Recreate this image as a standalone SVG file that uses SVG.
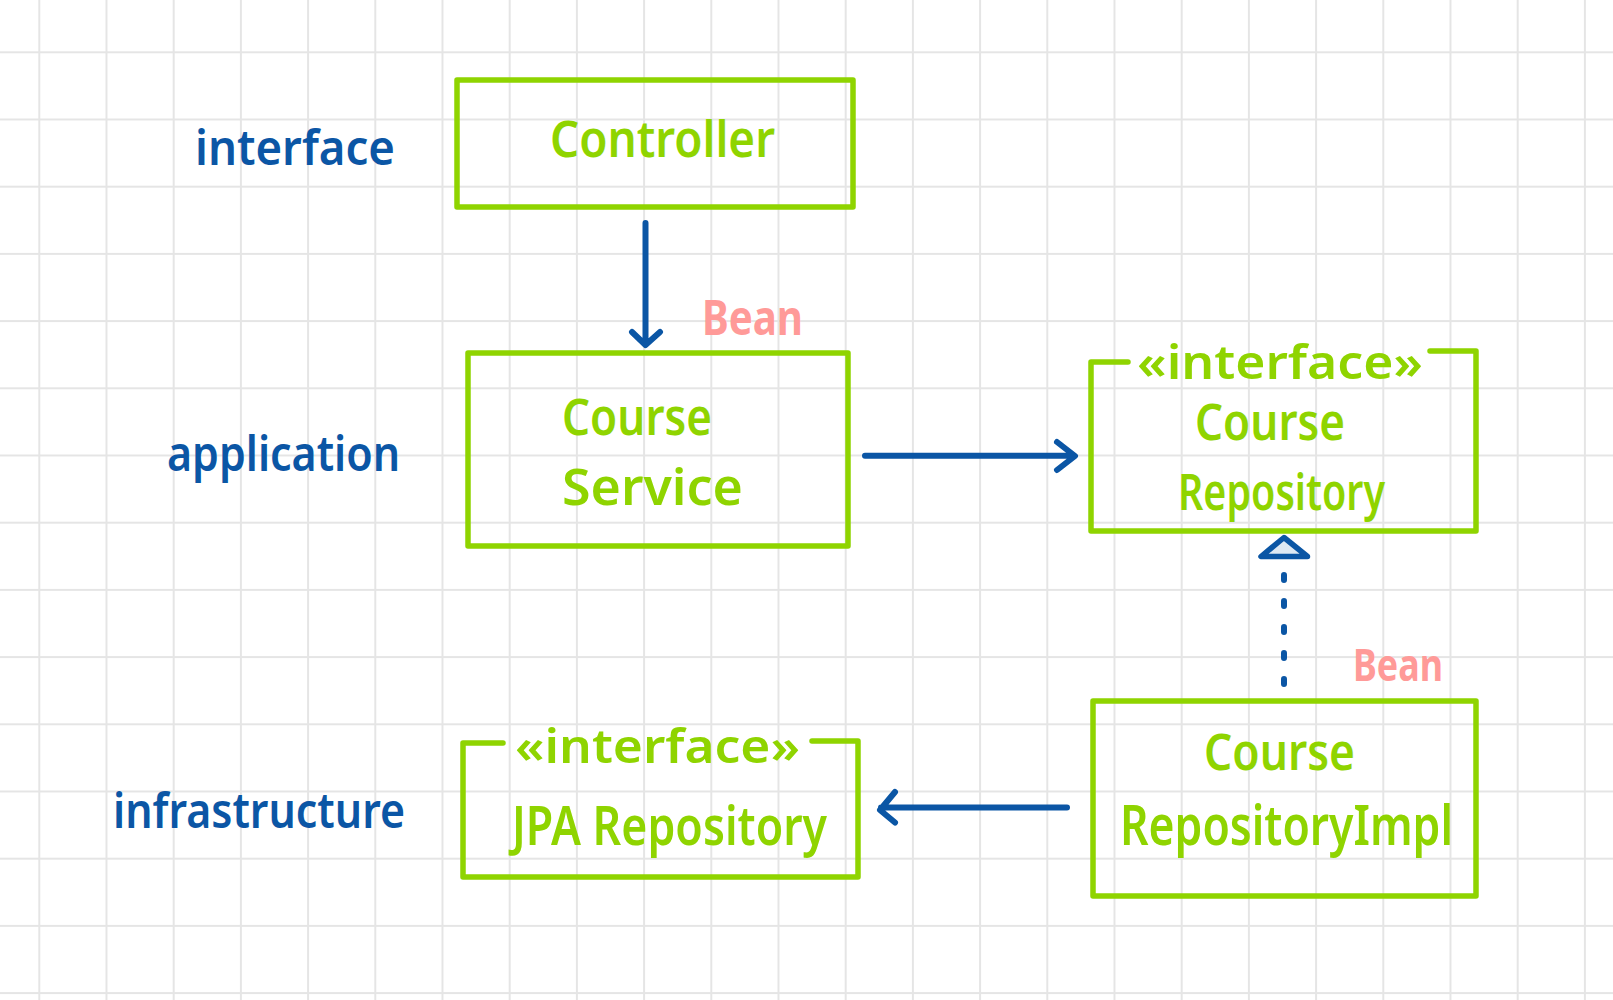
<svg xmlns="http://www.w3.org/2000/svg" width="1613" height="1000" viewBox="0 0 1613 1000">
  <style>
    .box { fill: none; stroke: #8fd400; stroke-width: 5.5; stroke-linejoin: round; stroke-linecap: round; }
    .gt { fill: #8fd400; font-family: "Noto Sans", "DejaVu Sans", sans-serif; font-weight: 600; }
    .bt { fill: #0b56a5; font-family: "Noto Sans", "DejaVu Sans", sans-serif; font-weight: 600; font-size: 48px; }
    .bean { fill: #ff9a98; font-family: "Noto Sans", "DejaVu Sans", sans-serif; font-weight: 700; }
    .conn { fill: none; stroke: #0b56a5; stroke-width: 6; stroke-linecap: round; stroke-linejoin: round; }
  </style>
  <defs>
    <pattern id="grid" patternUnits="userSpaceOnUse" x="38.3" y="51.3" width="67.2" height="67.2">
      <rect x="0" y="0" width="2" height="67.2" fill="#e5e5e5"/>
      <rect x="0" y="0" width="67.2" height="2" fill="#e5e5e5"/>
    </pattern>
  </defs>
  <rect width="1613" height="1000" fill="#ffffff"/>
  <rect width="1613" height="1000" fill="url(#grid)"/>

  <g id="layer-labels">
    <text class="bt" x="195" y="165" textLength="200" lengthAdjust="spacingAndGlyphs">interface</text>
    <text class="bt" x="167" y="471" textLength="233" lengthAdjust="spacingAndGlyphs">application</text>
    <text class="bt" x="113" y="828" textLength="292" lengthAdjust="spacingAndGlyphs">infrastructure</text>
  </g>

  <g id="controller">
    <rect class="box" x="457" y="80" width="396" height="127"/>
    <text class="gt" x="550" y="157" font-size="50" textLength="225" lengthAdjust="spacingAndGlyphs">Controller</text>
  </g>

  <g id="course-service">
    <rect class="box" x="468" y="353" width="380" height="193"/>
    <text class="gt" x="562" y="435" font-size="50" textLength="150" lengthAdjust="spacingAndGlyphs">Course</text>
    <text class="gt" x="562" y="505" font-size="50" textLength="181" lengthAdjust="spacingAndGlyphs">Service</text>
    <text class="bean" x="702" y="335" font-size="48" textLength="101" lengthAdjust="spacingAndGlyphs">Bean</text>
  </g>

  <g id="course-repository">
    <path class="box" d="M1128,362 H1091 V531 H1476 V351 H1430"/>
    <text class="gt" x="1137" y="379" font-size="46" textLength="286" lengthAdjust="spacingAndGlyphs">«interface»</text>
    <text class="gt" x="1195" y="440" font-size="50" textLength="150" lengthAdjust="spacingAndGlyphs">Course</text>
    <text class="gt" x="1178" y="510" font-size="50" textLength="207" lengthAdjust="spacingAndGlyphs">Repository</text>
  </g>

  <g id="course-repository-impl">
    <rect class="box" x="1093" y="701" width="383" height="195"/>
    <text class="gt" x="1204" y="770" font-size="50" textLength="151" lengthAdjust="spacingAndGlyphs">Course</text>
    <text class="gt" x="1120" y="845" font-size="56" textLength="333" lengthAdjust="spacingAndGlyphs">RepositoryImpl</text>
    <text class="bean" x="1353" y="681" font-size="44" textLength="90" lengthAdjust="spacingAndGlyphs">Bean</text>
  </g>

  <g id="jpa-repository">
    <path class="box" d="M503,743 H463 V877 H858 V741 H812"/>
    <text class="gt" x="515" y="763" font-size="46" textLength="285" lengthAdjust="spacingAndGlyphs">«interface»</text>
    <text class="gt" x="512" y="845" font-size="54" textLength="315" lengthAdjust="spacingAndGlyphs">JPA Repository</text>
  </g>

  <g id="connectors">
    <path class="conn" d="M645.5,223 V344 M632,332 L645.5,345 L660,332"/>
    <path class="conn" d="M865,455.7 H1074 M1057,442 L1075,456 L1057,470"/>
    <path class="conn" d="M1067,807.5 H881 M895,792 L880,810 L895,822.5"/>
    <path class="conn" d="M1284,575 V686" stroke-dasharray="5 21"/>
    <path d="M1284,537.5 L1261,556.5 H1307.5 Z" fill="#dde8f3" stroke="#0b56a5" stroke-width="5.5" stroke-linejoin="round"/>
  </g>
</svg>
